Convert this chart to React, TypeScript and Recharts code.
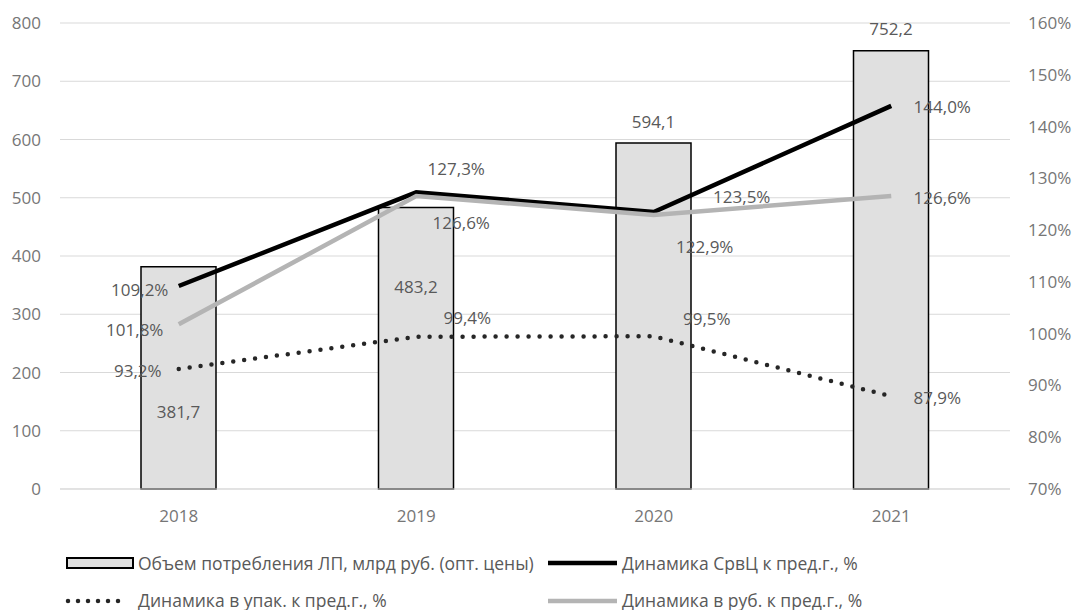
import React from 'react';
import { ComposedChart, Bar, Line, XAxis, YAxis, CartesianGrid, LabelList } from 'recharts';

const years = ['2018', '2019', '2020', '2021'];
const volume = [381.7, 483.2, 594.1, 752.2];
const srvcDyn = [109.2, 127.3, 123.5, 144.0];
const packDyn = [93.2, 99.4, 99.5, 87.9];
const rubDyn = [101.8, 126.6, 122.9, 126.6];

const leftTicks = [0, 100, 200, 300, 400, 500, 600, 700, 800];
const rightTicks = [70, 80, 90, 100, 110, 120, 130, 140, 150, 160];

const data = years.map((year, i) => ({
  year,
  volume: volume[i],
  srvc: srvcDyn[i],
  pack: packDyn[i],
  rub: rubDyn[i],
}));

// label placement (dx, dy from the point), like the hand-moved labels in the source
const srvcLabelPos = [[-39, 3], [40, -24], [88, -15], [51, 1]];
const rubLabelPos = [[-44, 5], [45, 27], [51, 31], [51, 2]];
const packLabelPos = [[-41, 2], [51, -19], [53, -18], [46, 1]];
const barLabelPos = [145, 79, -21, -22];

const TEXT = '#595959';
const AXIS_TEXT = '#767676';
const FONT = '"Open Sans", sans-serif';

const fmt = (v: number) => v.toFixed(1).replace('.', ',');

const lineLabel = (pos: number[][]) => (props: any) => {
  const { x, y, value, index } = props;
  const [dx, dy] = pos[index];
  return (
    <text x={x + dx} y={y + dy} textAnchor="middle" dominantBaseline="central" fill={TEXT} fontSize={17} fontFamily={FONT}>
      {fmt(value) + '%'}
    </text>
  );
};

const barLabel = (props: any) => {
  const { x, y, width, value, index } = props;
  return (
    <text x={x + width / 2} y={y + barLabelPos[index]} textAnchor="middle" dominantBaseline="central" fill={TEXT} fontSize={17} fontFamily={FONT}>
      {fmt(value)}
    </text>
  );
};

const legendText: React.CSSProperties = {
  position: 'absolute',
  fontSize: 17.5,
  color: TEXT,
  whiteSpace: 'nowrap',
  lineHeight: '20px',
  transform: 'translateY(-50%)',
};

const Legend2 = () => (
  <>
    <svg style={{ position: 'absolute', left: 0, top: 0 }} width={1074} height={610}>
      <rect x={67} y={558} width={66} height={10} fill="#e0e0e0" stroke="#000" strokeWidth={2} />
      <line x1={548} y1={563} x2={617} y2={563} stroke="#000" strokeWidth={4.5} />
      <line x1={68} y1={601} x2={128} y2={601} stroke="#262626" strokeWidth={4.5} strokeDasharray="0 10" strokeLinecap="round" />
      <line x1={548} y1={601} x2={617} y2={601} stroke="#b4b4b4" strokeWidth={4.5} />
    </svg>
    <div style={{ ...legendText, left: 138, top: 563 }}>Объем потребления ЛП, млрд руб. (опт. цены)</div>
    <div style={{ ...legendText, left: 622, top: 563 }}>Динамика СрвЦ к пред.г., %</div>
    <div style={{ ...legendText, left: 138, top: 600 }}>Динамика в упак. к пред.г., %</div>
    <div style={{ ...legendText, left: 622, top: 600 }}>Динамика в руб. к пред.г., %</div>
  </>
);

export default function App() {
  const tick = { fill: AXIS_TEXT, fontSize: 17, fontFamily: FONT };
  return (
    <div style={{ position: 'absolute', left: 0, top: 0, width: 1074, height: 610, background: '#fff', fontFamily: FONT }}>
      <ComposedChart width={1074} height={610} data={data} margin={{ top: 23, right: 0, left: 0, bottom: 91 }}>
        <CartesianGrid vertical={false} stroke="#d9d9d9" yAxisId="left" />
        <XAxis dataKey="year" axisLine={{ stroke: '#d9d9d9' }} tickLine={false} tick={tick} tickMargin={15} height={30} />
        <YAxis yAxisId="left" domain={[0, 800]} ticks={leftTicks} axisLine={false} tickLine={false} tick={tick} tickMargin={13} width={60} />
        <YAxis
          yAxisId="right"
          orientation="right"
          domain={[70, 160]}
          ticks={rightTicks}
          tickFormatter={(v: number) => `${v}%`}
          axisLine={false}
          tickLine={false}
          tick={tick}
          tickMargin={12}
          width={64}
        />
        <Bar yAxisId="left" dataKey="volume" barSize={75} fill="#e0e0e0" stroke="#000" strokeWidth={1.5} isAnimationActive={false}>
          <LabelList dataKey="volume" content={barLabel} />
        </Bar>
        <Line yAxisId="right" type="linear" dataKey="srvc" stroke="#000" strokeWidth={4.5} dot={false} isAnimationActive={false}>
          <LabelList dataKey="srvc" content={lineLabel(srvcLabelPos)} />
        </Line>
        <Line
          yAxisId="right"
          type="linear"
          dataKey="pack"
          stroke="#262626"
          strokeWidth={4.5}
          strokeDasharray="0 11"
          strokeLinecap="round"
          dot={false}
          isAnimationActive={false}
        >
          <LabelList dataKey="pack" content={lineLabel(packLabelPos)} />
        </Line>
        <Line yAxisId="right" type="linear" dataKey="rub" stroke="#b4b4b4" strokeWidth={4.5} dot={false} isAnimationActive={false}>
          <LabelList dataKey="rub" content={lineLabel(rubLabelPos)} />
        </Line>
      </ComposedChart>
      <Legend2 />
    </div>
  );
}
